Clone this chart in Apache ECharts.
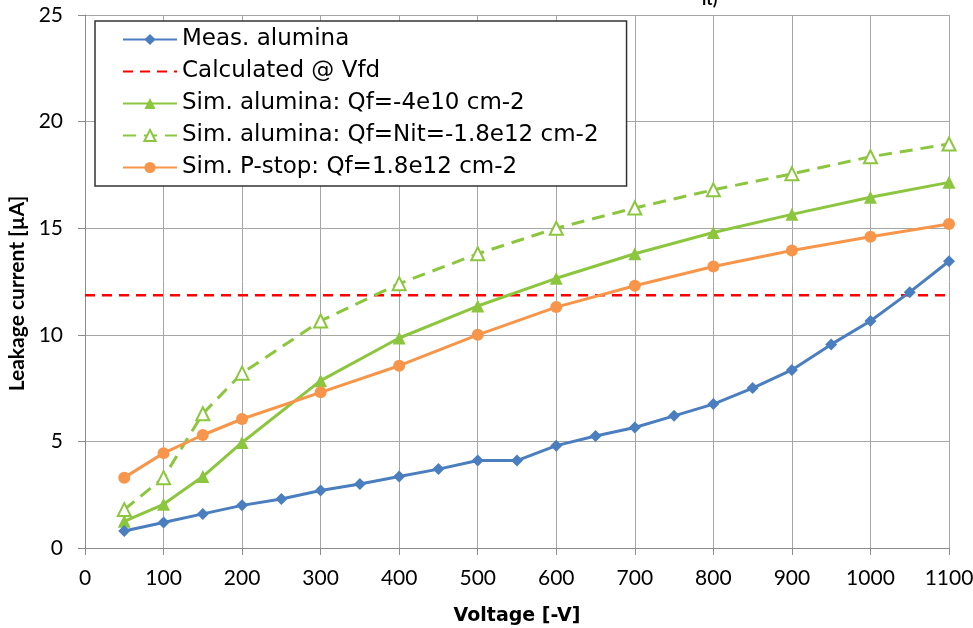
<!DOCTYPE html>
<html><head><meta charset="utf-8">
<script src="https://cdn.jsdelivr.net/npm/echarts@6/dist/echarts.min.js"></script>
<style>html,body{margin:0;padding:0;background:#fff}#c{width:973px;height:628px}</style>
</head><body><div id="c"></div>
<script>
const seriesNames = ["Meas. alumina", "Calculated @ Vfd", "Sim. alumina: Qf=-4e10 cm-2", "Sim. alumina: Qf=Nit=-1.8e12 cm-2", "Sim. P-stop: Qf=1.8e12 cm-2"];
const measV = [50,100,150,200,250,300,350,400,450,500,550,600,650,700,750,800,850,900,950,1000,1050,1100];
const measI = [0.8,1.2,1.6,2.0,2.3,2.7,3.0,3.35,3.7,4.1,4.1,4.8,5.25,5.65,6.2,6.75,7.5,8.35,9.55,10.65,12.0,13.45];
const calcV = [0,1100];
const calcI = [11.85,11.85];
const simV = [50,100,150,200,300,400,500,600,700,800,900,1000,1100];
const simQfI = [1.25,2.05,3.35,4.95,7.85,9.85,11.35,12.65,13.8,14.8,15.65,16.45,17.15];
const simNitI = [1.8,3.3,6.3,8.2,10.65,12.4,13.8,15.0,15.95,16.8,17.55,18.35,18.95];
const pstopI = [3.3,4.45,5.3,6.05,7.3,8.55,10.0,11.3,12.3,13.2,13.95,14.6,15.2];
const xTicks = {min:0, max:1100, interval:100};
const yTicks = {min:0, max:25, interval:5};

const zip = (a,b)=>a.map((v,i)=>[v,b[i]]);
const lato = 'Lato, "Open Sans", sans-serif';
const deja = '"DejaVu Sans", sans-serif';
const chart = echarts.init(document.getElementById('c'));
chart.setOption({
  animation:false,
  textStyle:{fontFamily:lato},
  grid:{left:85,right:24,top:15,bottom:80,containLabel:false,outerBoundsMode:'none'},
  xAxis:{type:'value',min:xTicks.min,max:xTicks.max,interval:xTicks.interval,
    name:'Voltage [-V]',nameLocation:'middle',nameGap:59,
    nameTextStyle:{fontSize:19,fontWeight:'bold',color:'#000',fontFamily:deja},
    axisLine:{lineStyle:{color:'#8c8c8c',width:1}},
    axisTick:{show:true,length:7,lineStyle:{color:'#8c8c8c'}},
    axisLabel:{fontSize:21,color:'#000',margin:20,fontFamily:lato,formatter:v=>String(v)},
    splitLine:{show:true,lineStyle:{color:'#a6a6a6',width:1}}},
  yAxis:{type:'value',min:yTicks.min,max:yTicks.max,interval:yTicks.interval,
    name:'Leakage current [µA]',nameLocation:'middle',nameGap:57,
    nameTextStyle:{fontSize:21,fontWeight:'bold',color:'#000',fontFamily:lato,padding:[0,24,0,0]},
    axisLine:{show:true,lineStyle:{color:'#8c8c8c',width:1}},
    axisTick:{show:true,length:7,lineStyle:{color:'#8c8c8c'}},
    axisLabel:{fontSize:21,color:'#000',margin:22,fontFamily:lato},
    splitLine:{show:true,lineStyle:{color:'#a6a6a6',width:1}}},
  legend:{orient:'vertical',left:95,top:21,
    backgroundColor:'#fff',borderColor:'#333',borderWidth:1.5,borderRadius:0,
    padding:[7,28,7,27],itemGap:9,itemWidth:54,itemHeight:14,
    textStyle:{fontSize:23,color:'#000',fontFamily:deja},
    data:[seriesNames[0],{name:seriesNames[1],itemStyle:{opacity:0}},seriesNames[2],seriesNames[3],seriesNames[4]]},
  graphic:[{type:'text',left:702,top:-9,style:{text:'it)',fontSize:17,fontWeight:'bold',fill:'#000',fontFamily:lato}}],
  series:[
    {name:seriesNames[0],type:'line',data:zip(measV,measI),symbol:'diamond',symbolSize:12,
     lineStyle:{color:'#4a7ebf',width:3},itemStyle:{color:'#4a7ebf'},z:5},
    {name:seriesNames[1],type:'line',data:zip(calcV,calcI),symbol:'none',
     lineStyle:{color:'#ff0000',width:2.5,type:[10,7]},itemStyle:{color:'#ff0000'},z:3},
    {name:seriesNames[2],type:'line',data:zip(simV,simQfI),symbol:'triangle',symbolSize:13,
     lineStyle:{color:'#8cc63f',width:3},itemStyle:{color:'#8cc63f'},z:4},
    {name:seriesNames[3],type:'line',data:zip(simV,simNitI),symbol:'triangle',symbolSize:13,
     lineStyle:{color:'#8cc63f',width:3,type:[13,8]},itemStyle:{color:'#fff',borderColor:'#8cc63f',borderWidth:2},z:4},
    {name:seriesNames[4],type:'line',data:zip(simV,pstopI),symbol:'circle',symbolSize:12,
     lineStyle:{color:'#f7964a',width:3},itemStyle:{color:'#f7964a'},z:4}
  ]
});
</script></body></html>
